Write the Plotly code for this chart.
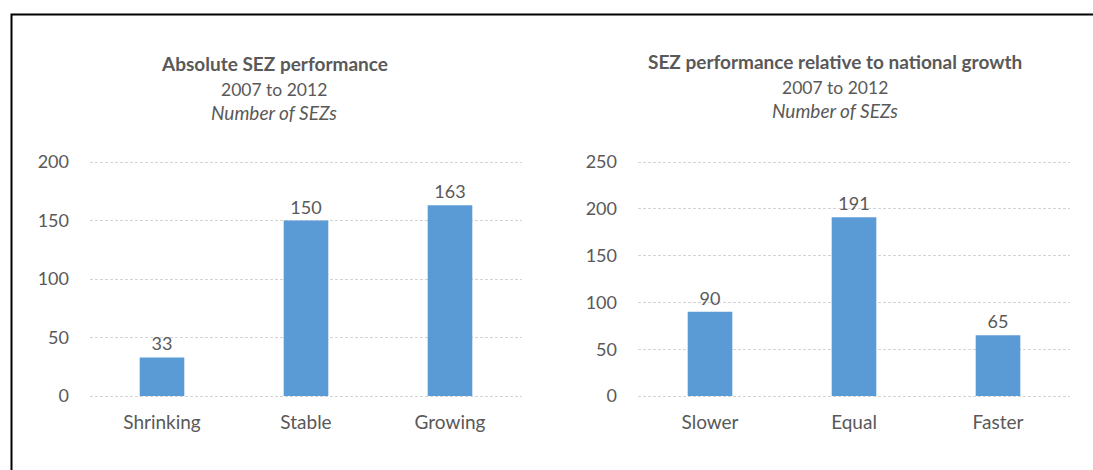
import plotly.graph_objects as go

W, H = 1093, 470

left_categories = ["Shrinking", "Stable", "Growing"]
left_values = [33, 150, 163]
right_categories = ["Slower", "Equal", "Faster"]
right_values = [90, 191, 65]

left_ticks = [0, 50, 100, 150, 200]
right_ticks = [0, 50, 100, 150, 200, 250]

left_title = ["<b>Absolute SEZ performance</b>", "2007 to 2012", "<i>Number of SEZs</i>"]
right_title = ["<b>SEZ performance relative to national growth</b>", "2007 to 2012", "<i>Number of SEZs</i>"]
title_sizes = [19, 17.5, 19]

BAR = "#5B9BD5"
TXT = "#595959"
FONT = "Lato"

def px_x(v):
    return v / W

def px_y(v):
    return (H - v) / H

fig = go.Figure()
fig.add_trace(go.Bar(x=left_categories, y=left_values, text=left_values,
                     textposition="outside", marker_color=BAR, width=0.31,
                     textfont=dict(size=18, color=TXT, family=FONT),
                     cliponaxis=False, xaxis="x", yaxis="y"))
fig.add_trace(go.Bar(x=right_categories, y=right_values, text=right_values,
                     textposition="outside", marker_color=BAR, width=0.31,
                     textfont=dict(size=18, color=TXT, family=FONT),
                     cliponaxis=False, xaxis="x2", yaxis="y2"))

# plot area: value 0 at y=396px, top tick at y=162px; pad range by 1.17px each side
ydom = [px_y(397.17), px_y(160.83)]
common_x = dict(showgrid=False, showline=False, zeroline=False, ticks="",
                tickfont=dict(size=19, color=TXT, family=FONT), ticklabelstandoff=12,
                automargin=False, fixedrange=True)
common_y = dict(showgrid=True, gridcolor="#D4D4D4", griddash="3px,2px", gridwidth=1,
                zeroline=False, showline=False, ticks="",
                tickfont=dict(size=18, color=TXT, family=FONT), ticklabelstandoff=20,
                automargin=False, fixedrange=True)

fig.update_layout(
    template="none",
    width=W, height=H,
    margin=dict(l=0, r=0, t=0, b=0, pad=0, autoexpand=False),
    paper_bgcolor="white", plot_bgcolor="white",
    showlegend=False,
    font=dict(family=FONT, color=TXT),
    xaxis=dict(domain=[px_x(90), px_x(522)], anchor="y", **common_x),
    yaxis=dict(domain=ydom, range=[-1, 201], tickvals=left_ticks, anchor="x", **common_y),
    xaxis2=dict(domain=[px_x(638), px_x(1070)], anchor="y2", **common_x),
    yaxis2=dict(domain=ydom, range=[-1.25, 251.25], tickvals=right_ticks, anchor="x2", **common_y),
)

for cx, ys, lines in [(274, [64, 89, 113], left_title), (835, [62, 87, 111], right_title)]:
    for yy, t, s in zip(ys, lines, title_sizes):
        fig.add_annotation(x=px_x(cx), y=px_y(yy), xref="paper", yref="paper",
                           text=t, showarrow=False, xanchor="center", yanchor="middle",
                           font=dict(size=s, color=TXT, family=FONT))

# outer frame (left and top edges)
fig.add_shape(type="path", xref="paper", yref="paper",
              path=f"M {px_x(11.5)} 0 L {px_x(11.5)} {px_y(14.5)} L 1 {px_y(14.5)}",
              line=dict(color="black", width=2))

fig.write_html("out.html", config={"displayModeBar": False},
               post_script="document.body.style.margin='0';document.body.style.padding='0';document.body.style.overflow='hidden';")
